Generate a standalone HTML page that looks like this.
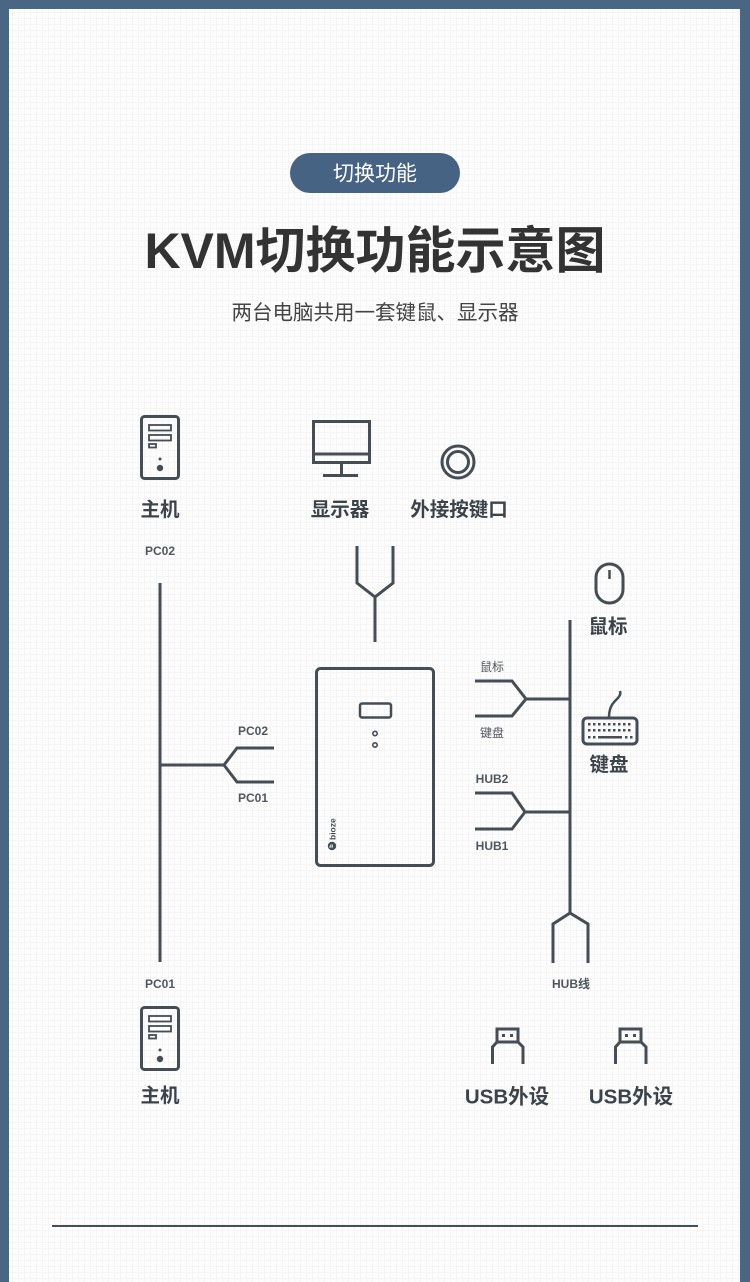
<!DOCTYPE html>
<html><head><meta charset="utf-8">
<style>
html,body{margin:0;padding:0;}
body{width:750px;height:1282px;overflow:hidden;position:relative;background:#fdfdfd;
background-image:linear-gradient(#f5f5f5 1px,transparent 1px),linear-gradient(90deg,#f5f5f5 1px,transparent 1px);background-size:6px 6px;}
svg{position:absolute;left:0;top:0;}
text{font-family:"Liberation Sans","Noto Sans CJK SC",sans-serif;}
</style></head><body>
<svg width="750" height="1282" viewBox="0 0 750 1282" xmlns="http://www.w3.org/2000/svg">
<!-- borders -->
<rect x="0" y="0" width="750" height="9" fill="#4a6685"/>
<rect x="0" y="0" width="9" height="1282" fill="#4a6685"/>
<rect x="740" y="0" width="10" height="1282" fill="#4a6685"/>

<!-- pill -->
<rect x="290" y="153" width="170" height="40" rx="20" fill="#466383"/>
<text x="375" y="174" text-anchor="middle" dominant-baseline="central" font-size="21" fill="#ffffff">切换功能</text>

<!-- title -->
<text x="375" y="251" text-anchor="middle" dominant-baseline="central" font-size="50" font-weight="bold" fill="#333333">KVM切换功能示意图</text>
<text x="375" y="313" text-anchor="middle" dominant-baseline="central" font-size="20.5" fill="#444444">两台电脑共用一套键鼠、显示器</text>

<g fill="none" stroke="#454d55" stroke-width="3" stroke-linejoin="miter">
<!-- top PC -->
<rect x="141.5" y="416.5" width="37" height="62" rx="3"/>
<!-- bottom PC -->
<rect x="141.5" y="1007.5" width="37" height="62" rx="3"/>

<!-- monitor -->
<rect x="313.5" y="421.5" width="56" height="41"/>
<line x1="313" y1="454" x2="370" y2="454"/>
<line x1="341.5" y1="463" x2="341.5" y2="475"/>
<line x1="323" y1="475.5" x2="358" y2="475.5"/>

<!-- ring -->
<circle cx="458" cy="462" r="16"/>
<circle cx="458" cy="462" r="10.5"/>

<!-- monitor fork -->
<polyline points="357,546 357,583 375,597 393,583 393,546"/>
<line x1="375" y1="597" x2="375" y2="642"/>

<!-- KVM box -->
<rect x="316.5" y="668.5" width="117" height="197" rx="4"/>
<rect x="360" y="703.5" width="31" height="14" rx="2" stroke-width="2.5"/>
<circle cx="375" cy="733.5" r="2.2" stroke-width="1.6"/>
<circle cx="375" cy="745" r="2.2" stroke-width="1.6"/>

<!-- left bus -->
<line x1="160" y1="583" x2="160" y2="962"/>
<line x1="160" y1="765" x2="224" y2="765"/>
<polyline points="274,748 237,748 224,765 237,782 274,782"/>

<!-- right bus -->
<line x1="570" y1="620" x2="570" y2="913"/>
<polyline points="553,963 553,924 570,913 588,924 588,963"/>
<polyline points="475,681 512,681 526,699 512,716 475,716"/>
<line x1="526" y1="699" x2="570" y2="699"/>
<polyline points="475,793 512,793 525,812 512,829 475,829"/>
<line x1="525" y1="812" x2="570" y2="812"/>

<!-- mouse -->
<rect x="596" y="564" width="27" height="39" rx="13.5"/>
<line x1="609.5" y1="570" x2="609.5" y2="579" stroke-width="2.5"/>

<!-- keyboard -->
<rect x="583" y="718" width="54" height="26" rx="4"/>
<path d="M609,718 C609,708 612,704 616,700 C620,696 621,694 620,691" stroke-width="2.5"/>

<!-- USB -->
<path d="M492.5,1064 V1047 L497,1042 H518 L523,1047 V1064"/>
<rect x="497" y="1029" width="21" height="13"/>
<path d="M615.5,1064 V1047 L620,1042 H641 L646,1047 V1064"/>
<rect x="620" y="1029" width="21" height="13"/>
</g>

<!-- PC tower internals -->
<g fill="none" stroke="#454d55" stroke-width="1.8">
<rect x="149" y="425" width="22" height="5.5"/>
<rect x="149" y="435" width="22" height="5.5"/>
<rect x="149" y="444" width="7" height="3.5"/>
<rect x="149" y="1016" width="22" height="5.5"/>
<rect x="149" y="1026" width="22" height="5.5"/>
<rect x="149" y="1035" width="7" height="3.5"/>
</g>
<g fill="#454d55">
<circle cx="160" cy="459" r="1.5"/>
<circle cx="160" cy="468" r="3.2"/>
<circle cx="160" cy="1050" r="1.5"/>
<circle cx="160" cy="1059" r="3.2"/>
<!-- usb dots -->
<rect x="502" y="1034" width="3" height="3"/>
<rect x="510" y="1034" width="3" height="3"/>
<rect x="625" y="1034" width="3" height="3"/>
<rect x="633" y="1034" width="3" height="3"/>
<!-- keyboard keys -->
<g>
<rect x="588" y="723" width="2.5" height="2.5"/><rect x="593" y="723" width="2.5" height="2.5"/><rect x="598" y="723" width="2.5" height="2.5"/><rect x="603" y="723" width="2.5" height="2.5"/><rect x="608" y="723" width="2.5" height="2.5"/><rect x="613" y="723" width="2.5" height="2.5"/><rect x="618" y="723" width="2.5" height="2.5"/><rect x="623" y="723" width="2.5" height="2.5"/><rect x="628" y="723" width="2.5" height="2.5"/>
<rect x="588" y="729" width="2.5" height="2.5"/><rect x="593" y="729" width="2.5" height="2.5"/><rect x="598" y="729" width="2.5" height="2.5"/><rect x="603" y="729" width="2.5" height="2.5"/><rect x="608" y="729" width="2.5" height="2.5"/><rect x="613" y="729" width="2.5" height="2.5"/><rect x="618" y="729" width="2.5" height="2.5"/><rect x="623" y="729" width="2.5" height="2.5"/><rect x="628" y="729" width="2.5" height="2.5"/>
<rect x="588" y="736" width="2.5" height="2.5"/><rect x="593" y="736" width="2.5" height="2.5"/><rect x="598" y="736" width="24" height="2.5"/><rect x="625" y="736" width="2.5" height="2.5"/><rect x="630" y="736" width="2.5" height="2.5"/>
</g>
</g>

<!-- logo on box -->
<g transform="translate(332,846) rotate(-90)">
<circle cx="0" cy="0" r="4.2" fill="#454d55"/>
<text x="0" y="0" text-anchor="middle" dominant-baseline="central" font-size="5.5" font-weight="bold" fill="#fff">b</text>
<text x="6" y="0.5" dominant-baseline="central" font-size="8.5" font-weight="bold" fill="#454d55">bioze</text>
</g>

<!-- big labels -->
<g font-size="19.5" font-weight="bold" fill="#3c4349" text-anchor="middle">
<text x="160" y="510" dominant-baseline="central">主机</text>
<text x="160" y="1096" dominant-baseline="central">主机</text>
<text x="340" y="510" dominant-baseline="central">显示器</text>
<text x="459" y="510" dominant-baseline="central">外接按键口</text>
<text x="608" y="627" dominant-baseline="central">鼠标</text>
<text x="609" y="765" dominant-baseline="central">键盘</text>
<text x="507" y="1097" dominant-baseline="central" font-size="20.5">USB外设</text>
<text x="631" y="1097" dominant-baseline="central" font-size="20.5">USB外设</text>
</g>

<!-- small labels -->
<g font-size="12" font-weight="bold" fill="#50575e">
<text x="160" y="551" text-anchor="middle" dominant-baseline="central">PC02</text>
<text x="160" y="984" text-anchor="middle" dominant-baseline="central">PC01</text>
<text x="253" y="731" text-anchor="middle" dominant-baseline="central">PC02</text>
<text x="253" y="798" text-anchor="middle" dominant-baseline="central">PC01</text>
<text x="492" y="779" text-anchor="middle" dominant-baseline="central">HUB2</text>
<text x="492" y="846" text-anchor="middle" dominant-baseline="central">HUB1</text>
<text x="571" y="984" text-anchor="middle" dominant-baseline="central">HUB线</text>
</g>
<g font-size="12" fill="#50575e">
<text x="492" y="667" text-anchor="middle" dominant-baseline="central">鼠标</text>
<text x="492" y="733" text-anchor="middle" dominant-baseline="central">键盘</text>
</g>

<!-- bottom line -->
<line x1="52" y1="1226" x2="698" y2="1226" stroke="#454d55" stroke-width="2"/>
</svg>
</body></html>
